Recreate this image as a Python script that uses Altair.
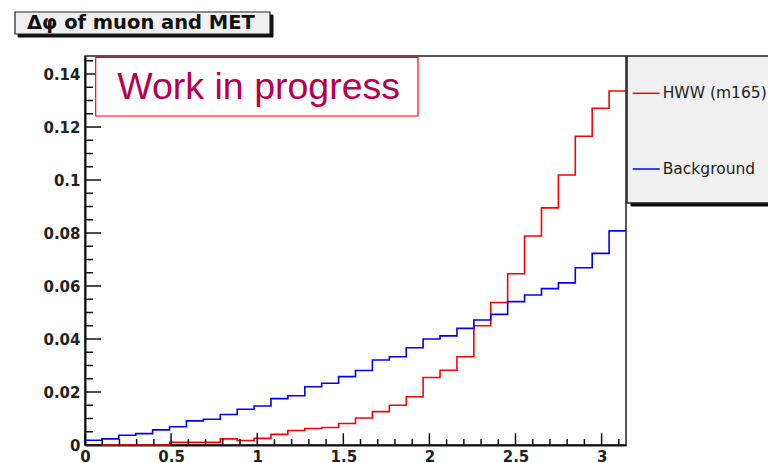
import altair as alt
import pandas as pd

# ---------------- data ----------------
x_max = 3.1416
n_bins = 32
series = ["HWW (m165)", "Background"]
colors = ["#ff0000", "#0000ff"]

hww = [0.0, 0.0, 0.0, 0.0, 0.0, 0.0010, 0.0010, 0.0010, 0.0023, 0.0017, 0.0025, 0.0040,
       0.0055, 0.0062, 0.0066, 0.0081, 0.0102, 0.0126, 0.0150, 0.0182, 0.0255, 0.0282,
       0.0333, 0.0450, 0.0538, 0.0646, 0.0789, 0.0895, 0.1019, 0.1165, 0.1271, 0.1336]
bkg = [0.0018, 0.0023, 0.0037, 0.0043, 0.0057, 0.0069, 0.0091, 0.0097, 0.0115, 0.0135,
       0.0147, 0.0175, 0.0186, 0.0220, 0.0233, 0.0258, 0.0281, 0.0321, 0.0333, 0.0367,
       0.0400, 0.0412, 0.0440, 0.0472, 0.0493, 0.0541, 0.0566, 0.0590, 0.0612, 0.0669,
       0.0723, 0.0808]

x_major = [0, 0.5, 1, 1.5, 2, 2.5, 3]
x_minor = [0.1, 0.2, 0.3, 0.4, 0.6, 0.7, 0.8, 0.9, 1.1, 1.2, 1.3, 1.4, 1.6, 1.7, 1.8, 1.9,
           2.1, 2.2, 2.3, 2.4, 2.6, 2.7, 2.8, 2.9, 3.1]
y_major = [0, 0.02, 0.04, 0.06, 0.08, 0.1, 0.12, 0.14]
y_minor = [0.005, 0.01, 0.015, 0.025, 0.03, 0.035, 0.045, 0.05, 0.055, 0.065, 0.07, 0.075,
           0.085, 0.09, 0.095, 0.105, 0.11, 0.115, 0.125, 0.13, 0.135, 0.145]
y_max = 0.1468

title_text = "\u0394\u03c6 of muon and MET"
stamp_text = "Work in progress"

# ---------------- tables ----------------
edges = [i * x_max / n_bins for i in range(n_bins + 1)]
rows = []
for name, vals in zip(series, [hww, bkg]):
    for i, v in enumerate(vals):
        rows.append({"x": edges[i], "y": v, "s": name})
    rows.append({"x": edges[n_bins], "y": vals[-1], "s": name})
hist_df = pd.DataFrame(rows)

W, H = 541, 389
xscale = alt.Scale(domain=[0, x_max], nice=False, zero=False)
yscale = alt.Scale(domain=[0, y_max], nice=False, zero=False)
LABEL_FONT = "DejaVu Sans"

lines = alt.Chart(hist_df).mark_line(interpolate="step-after", strokeWidth=1.6).encode(
    x=alt.X("x:Q", scale=xscale, title=None,
            axis=alt.Axis(values=x_major, format="~g", tickSize=0, grid=False,
                          labelFlush=False, labelPadding=4, domainColor="#111",
                          domainWidth=2, labelFont=LABEL_FONT, labelFontWeight="bold",
                          labelFontSize=15, labelColor="#222")),
    y=alt.Y("y:Q", scale=yscale, title=None,
            axis=alt.Axis(values=y_major, format="~g", tickSize=0, grid=False,
                          labelPadding=5, domainColor="#111", domainWidth=2,
                          labelFont=LABEL_FONT, labelFontWeight="bold",
                          labelFontSize=15, labelColor="#222")),
    color=alt.Color("s:N", scale=alt.Scale(domain=series, range=colors),
                    legend=alt.Legend(orient="none", legendX=546.7, legendY=22.8, title=None,
                                      symbolType="stroke", symbolSize=729,
                                      symbolStrokeWidth=1.5, labelFont=LABEL_FONT,
                                      labelFontSize=15.5, labelColor="#222",
                                      labelOffset=2, rowPadding=52.7, padding=0)),
    order="x:Q",
)

def xticks(vals, length):
    return alt.Chart(pd.DataFrame({"x": vals})).mark_rule(color="#111", strokeWidth=1.5).encode(
        x=alt.X("x:Q", scale=xscale, title=None),
        y=alt.value(H), y2=alt.value(H - length))

def yticks(vals, length):
    return alt.Chart(pd.DataFrame({"y": vals})).mark_rule(color="#111", strokeWidth=1.5).encode(
        y=alt.Y("y:Q", scale=yscale, title=None),
        x=alt.value(0), x2=alt.value(length))

one = pd.DataFrame({"a": [0]})

def box(x1, x2, y1, y2, fill, stroke, sw=1.0):
    return alt.Chart(one).mark_rect(fill=fill, stroke=stroke, strokeWidth=sw).encode(
        x=alt.value(x1), x2=alt.value(x2), y=alt.value(y1), y2=alt.value(y2))

# title box (outside plot, top-left)
title_shadow = box(-67, 188, -41, -19, "#111", "#111")
title_box = box(-70, 185, -44, -22, "#f0f0f0", "#222", 1.2)
title_txt = alt.Chart(one).mark_text(text=title_text, align="left", baseline="alphabetic",
                                     font=LABEL_FONT, fontWeight="bold", fontSize=19.5,
                                     color="#111").encode(x=alt.value(-58), y=alt.value(-27))

# work in progress stamp
stamp_box = box(10.7, 333, 1.3, 60, "#ffffff", "#ff0000", 1.2)
stamp_txt = alt.Chart(one).mark_text(text=stamp_text, align="left", baseline="alphabetic",
                                     font="Liberation Sans", fontSize=37.5,
                                     color="#b4004e").encode(x=alt.value(32.3), y=alt.value(43.3))

# legend frame
leg_shadow = box(546, 760, 3, 150, "#111", "#111")
leg_box = box(542, 760, 0, 147, "#f0f0f0", "#222", 1.5)

chart = alt.layer(
    lines,
    xticks(x_major, 11.7), xticks(x_minor, 6),
    yticks(y_major, 16), yticks(y_minor, 8),
    stamp_box, stamp_txt,
    title_shadow, title_box, title_txt,
    leg_shadow, leg_box,
).properties(
    width=W, height=H,
    autosize=alt.AutoSizeParams(type="none"),
    padding={"left": 85, "top": 56, "right": 142, "bottom": 18},
    background="white",
).configure_view(stroke="#222", strokeWidth=1.5)

chart.save("out.html", embed_options={"renderer": "svg", "actions": False})
